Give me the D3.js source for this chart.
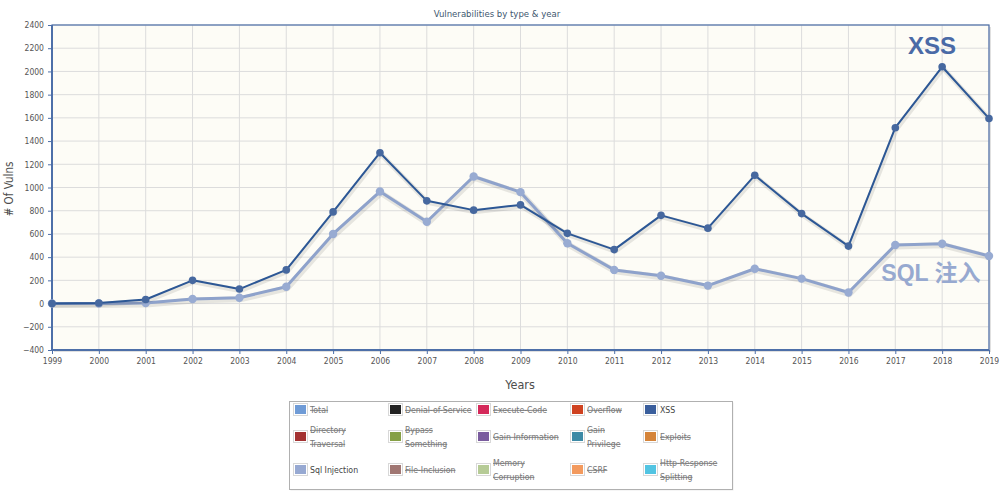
<!DOCTYPE html>
<html>
<head>
<meta charset="utf-8">
<script src="https://cdn.jsdelivr.net/npm/d3@7"></script>
<style>
  body { margin: 0; background: #fff; }
  svg { font-family: "DejaVu Sans Condensed", "DejaVu Sans", sans-serif; }
</style>
</head>
<body>
<div id="chart"></div>
<script>
// data
var years = [1999, 2000, 2001, 2002, 2003, 2004, 2005, 2006, 2007, 2008, 2009,
             2010, 2011, 2012, 2013, 2014, 2015, 2016, 2017, 2018, 2019]
var xssValues = [0, 5, 35, 200, 125, 290, 790, 1300, 885, 805, 850,
                 605, 465, 760, 650, 1105, 775, 495, 1515, 2040, 1595]
var sqlValues = [0, 0, 5, 40, 50, 145, 600, 965, 705, 1095, 960,
                 520, 290, 240, 155, 300, 215, 95, 505, 515, 410]
var yTicks = [-400, -200, 0, 200, 400, 600, 800, 1000, 1200, 1400, 1600, 1800, 2000, 2200, 2400]

var legendNames = ["Total", "Denial-of-Service", "Execute-Code", "Overflow", "XSS",
                   "Directory Traversal", "Bypass Something", "Gain Information", "Gain Privilege", "Exploits",
                   "Sql Injection", "File-Inclusion", "Memory Corruption", "CSRF", "Http-Response Splitting"]
var legendColors = ["#6f9bd6", "#222222", "#d4295a", "#cf4220", "#3a5e9c",
                    "#a33232", "#86a046", "#7a5c9e", "#3d8aa6", "#d5843a",
                    "#97a9d2", "#a07672", "#b6cb96", "#f39a5e", "#52c4e2"]
var legendVisible = [false, false, false, false, true,
                     false, false, false, false, false,
                     true, false, false, false, false]

var width = 1006
var height = 500

var plotLeft = 52, plotRight = 989, plotTop = 25, plotBottom = 350

var svg = d3.select('#chart')
            .append('svg')
            .attr('width', width)
            .attr('height', height)

var xScale = d3.scaleLinear()
                .domain([1999, 2019])
                .range([plotLeft, plotRight])

var yScale = d3.scaleLinear()
                .domain([-400, 2400])
                .range([plotBottom, plotTop])

// plot background + shadow
svg.append('rect')
    .attr('x', plotLeft + 2).attr('y', plotTop + 2)
    .attr('width', plotRight - plotLeft).attr('height', plotBottom - plotTop)
    .attr('fill', 'rgba(0,0,0,0.12)')
svg.append('rect')
    .attr('x', plotLeft).attr('y', plotTop)
    .attr('width', plotRight - plotLeft).attr('height', plotBottom - plotTop)
    .attr('fill', '#fdfcf6')

// grid
var grid = svg.append('g')
grid.selectAll('.hgrid')
    .data(yTicks)
    .enter()
    .append('line')
    .attr('x1', plotLeft).attr('x2', plotRight)
    .attr('y1', d => yScale(d)).attr('y2', d => yScale(d))
    .attr('stroke', '#dcdcdc')
    .attr('stroke-width', 1)
grid.selectAll('.vgrid')
    .data(years)
    .enter()
    .append('line')
    .attr('y1', plotTop).attr('y2', plotBottom)
    .attr('x1', d => xScale(d)).attr('x2', d => xScale(d))
    .attr('stroke', '#dcdcdc')
    .attr('stroke-width', 1)

// border
svg.append('rect')
    .attr('x', plotLeft).attr('y', plotTop)
    .attr('width', plotRight - plotLeft).attr('height', plotBottom - plotTop)
    .attr('fill', 'none')
    .attr('stroke', '#4d6fa8')
    .attr('stroke-width', 1.2)

// axes
var yAxis = d3.axisLeft(yScale)
                .tickValues(yTicks)
                .tickFormat(d3.format('d'))
                .tickSize(4)
                .tickPadding(4)
var xAxis = d3.axisBottom(xScale)
                .tickValues(years)
                .tickFormat(d3.format('d'))
                .tickSize(4)
                .tickPadding(4)

var gy = svg.append('g')
    .attr('transform', 'translate(' + plotLeft + ',0)')
    .call(yAxis)
var gx = svg.append('g')
    .attr('transform', 'translate(0,' + plotBottom + ')')
    .call(xAxis)

;[gx, gy].forEach(function (g) {
    g.select('.domain').attr('stroke', '#4d6fa8').attr('stroke-width', 2)
    g.selectAll('.tick line').attr('stroke', '#4d6fa8')
    g.selectAll('.tick text')
        .attr('fill', '#555')
        .style('font-size', '8.5px')
        .style('font-family', '"DejaVu Sans Condensed", "DejaVu Sans", sans-serif')
})
gy.select('.domain').attr('d', 'M0,' + plotTop + 'V' + plotBottom)
gx.select('.domain').attr('d', 'M' + plotLeft + ',0H' + plotRight)

// titles
svg.append('text')
    .attr('x', 497).attr('y', 17)
    .attr('text-anchor', 'middle')
    .attr('fill', '#3e576f')
    .style('font-size', '9.5px')
    .text('Vulnerabilities by type & year')

svg.append('text')
    .attr('text-anchor', 'middle')
    .attr('transform', 'translate(13,' + 189 + ')rotate(-90)')
    .attr('fill', '#4d4d4d')
    .style('font-size', '11.5px')
    .text('# Of Vulns')

svg.append('text')
    .attr('x', 520).attr('y', 389)
    .attr('text-anchor', 'middle')
    .attr('fill', '#4d4d4d')
    .style('font-size', '12.5px')
    .text('Years')

// series
var series = [
    { values: sqlValues, line: '#8ea2cb', marker: '#98abd2', width: 3, r: 4.2 },
    { values: xssValues, line: '#2c5795', marker: '#46689f', width: 2, r: 3.8 }
]

var createLine = d3.line()
                    .x((d, i) => xScale(years[i]))
                    .y(d => yScale(d))

series.forEach(function (s) {
    var g = svg.append('g')
    g.append('path')
        .datum(s.values)
        .attr('d', createLine)
        .attr('fill', 'none')
        .attr('stroke', 'rgba(0,0,0,0.09)')
        .attr('stroke-width', s.width + 3)
        .attr('transform', 'translate(1,1.5)')
    g.append('path')
        .datum(s.values)
        .attr('d', createLine)
        .attr('fill', 'none')
        .attr('stroke', s.line)
        .attr('stroke-width', s.width)
        .attr('stroke-linejoin', 'round')
    g.selectAll('circle')
        .data(s.values)
        .enter()
        .append('circle')
        .attr('cx', (d, i) => xScale(years[i]))
        .attr('cy', d => yScale(d))
        .attr('r', s.r)
        .attr('fill', s.marker)
})

// annotations
svg.append('text')
    .attr('x', 932).attr('y', 54)
    .attr('text-anchor', 'middle')
    .attr('fill', '#4a6aa6')
    .style('font-size', '24px')
    .style('font-weight', 'bold')
    .style('font-family', '"Liberation Sans", Arial, sans-serif')
    .text('XSS')

svg.append('text')
    .attr('x', 931).attr('y', 281)
    .attr('text-anchor', 'middle')
    .attr('fill', '#97a9d0')
    .style('font-size', '23px')
    .style('font-weight', 'bold')
    .style('font-family', '"Liberation Sans", "Noto Sans CJK SC", sans-serif')
    .text('SQL 注入')

// legend
var legend = svg.append('g')
legend.append('rect')
    .attr('x', 290.5).attr('y', 402.5)
    .attr('width', 443).attr('height', 88)
    .attr('fill', 'rgba(0,0,0,0.08)')
legend.append('rect')
    .attr('x', 289.5).attr('y', 401.5)
    .attr('width', 443).attr('height', 88)
    .attr('fill', '#fff')
    .attr('stroke', '#b0b0b0')
    .attr('stroke-width', 1)

var colX = [295, 390, 478, 572, 645]
var rowY = [410, 437, 470]

legendNames.forEach(function (name, i) {
    var cx = colX[i % 5]
    var cy = rowY[Math.floor(i / 5)]
    var item = legend.append('g')
    item.append('rect')
        .attr('x', cx - 1.5).attr('y', cy - 6.5)
        .attr('width', 14).attr('height', 12)
        .attr('fill', '#fff')
        .attr('stroke', '#d8d8d8')
    item.append('rect')
        .attr('x', cx).attr('y', cy - 5)
        .attr('width', 11).attr('height', 9)
        .attr('fill', legendColors[i])
    var words = name.split(' ')
    var lines = (name.length > 14 && words.length > 1) ? [words.slice(0, -1).join(' '), words[words.length - 1]] : [name]
    if (name === 'Gain Information' || name === 'Sql Injection') lines = [name]
    if (name === 'Gain Privilege') lines = words
    var t = item.append('text')
        .attr('x', cx + 15)
        .attr('fill', legendVisible[i] ? '#444' : '#777')
        .style('font-size', '8.7px')
        .style('text-decoration', legendVisible[i] ? 'none' : 'line-through')
    lines.forEach(function (ln, k) {
        t.append('tspan')
            .attr('x', cx + 15)
            .attr('y', cy + 3 + (lines.length === 1 ? 0 : (k === 0 ? -7 : 7)))
            .text(ln)
    })
})
</script>
</body>
</html>
